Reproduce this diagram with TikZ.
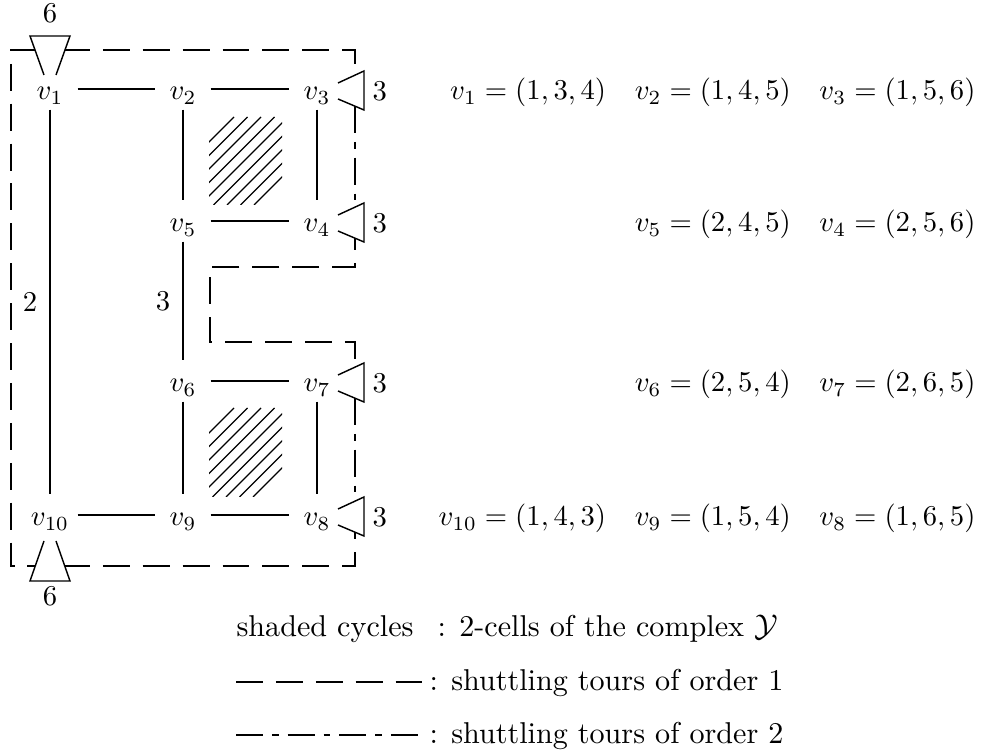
\documentclass[tikz,border=0pt]{standalone}
\usetikzlibrary{calc}
\tikzset{
  vtx/.style={inner sep=0pt,minimum width=18.8pt,minimum height=13.9pt,text height=8.2pt,text depth=0.55pt},
  edge/.style={line width=0.9pt},
  order1/.style={line width=0.9pt,dash pattern=on 9.4pt off 4.5pt},
  order2/.style={line width=0.9pt,dash pattern=on 9.4pt off 3.1pt on 2.4pt off 3.1pt},
  hatch/.style={line width=0.4pt},
  tick/.style={line width=0.5pt,fill=white},
  lbl/.style={inner sep=0pt},
  key/.style={lbl,anchor=base west,font=\fontsize{10.5}{12}\selectfont},
  sidemark/.pic={
    \draw[tick] (-26,-6) -- (0,-18) -- (0,21) -- (-26,10);
    \node[lbl,anchor=base west] at (8,12) {3};
  },
  topmark/.pic={
    \draw[tick] (-6,39) -- (-20,0) -- (20,0) -- (6,39);
    \node[lbl,anchor=base] at (0,-13) {6};
  },
  botmark/.pic={
    \draw[tick] (-6,-40) -- (-20,0) -- (20,0) -- (6,-40);
    \node[lbl,anchor=base] at (0,25) {6};
  }
}
\begin{document}
\begin{tikzpicture}[x=0.3484pt,y=-0.3484pt]
  \useasboundingbox (0,0) rectangle (983,751);
  % vertices
  \node[vtx] (v1) at (50,89) {$v_1$};
  \node[vtx] (v2) at (183,89) {$v_2$};
  \node[vtx] (v3) at (317,89) {$v_3$};
  \node[vtx] (v5) at (183,221) {$v_5$};
  \node[vtx] (v4) at (317,221) {$v_4$};
  \node[vtx] (v6) at (183,381) {$v_6$};
  \node[vtx] (v7) at (317,381) {$v_7$};
  \node[vtx] (v10) at (50,515) {$v_{10}$};
  \node[vtx] (v9) at (183,515) {$v_9$};
  \node[vtx] (v8) at (317,515) {$v_8$};
  % shaded cycles
  \begin{scope}
    \clip (209,117) rectangle (282,205);
    \foreach \c in {351,364.5,...,460}
      \draw[hatch] (\c-205,205) -- (\c-117,117);
  \end{scope}
  \begin{scope}
    \clip (209,408) rectangle (282,497);
    \foreach \c in {642,655.5,...,751}
      \draw[hatch] (\c-497,497) -- (\c-408,408);
  \end{scope}
  % edges
  \draw[edge] (v1) -- (v2);
  \draw[edge] (v2) -- (v3);
  \draw[edge] (v2) -- (v5);
  \draw[edge] (v3) -- (v4);
  \draw[edge] (v5) -- (v4);
  \draw[edge] (v5) -- node[left,inner sep=4pt] {3} (v6);
  \draw[edge] (v1) -- node[left,inner sep=4pt] {2} (v10);
  \draw[edge] (v6) -- (v7);
  \draw[edge] (v6) -- (v9);
  \draw[edge] (v7) -- (v8);
  \draw[edge] (v10) -- (v9);
  \draw[edge] (v9) -- (v8);
  % shuttling tours
  \draw[order1,dash phase=9.4pt] (50,50) -- (355,50) -- (355,91);
  \draw[order1,dash phase=9.4pt] (50,50) -- (11,50) -- (11,566) -- (50,566);
  \draw[order1,dash phase=9.4pt] (50,566) -- (355,566) -- (355,517);
  \draw[order1] (355,223) -- (355,267) -- (210,267) -- (210,342) -- (355,342) -- (355,383);
  \draw[order2] (355,106) -- (355,223);
  \draw[order2] (355,398) -- (355,517);
  \pic at ($(v3)+(47,0)$) {sidemark};
  \pic at ($(v4)+(47,0)$) {sidemark};
  \pic at ($(v7)+(47,0)$) {sidemark};
  \pic at ($(v8)+(47,0)$) {sidemark};
  \pic at ($(v1)+(0,-53)$) {topmark};
  \pic at ($(v10)+(0,66)$) {botmark};
  % vertex table
  \node[lbl,anchor=base east] (tab1) at (976,100) {$v_1=(1,3,4)\quad v_2=(1,4,5)\quad v_3=(1,5,6)$};
  \node[lbl,anchor=base east] (tab2) at (976,232) {$v_5=(2,4,5)\quad v_4=(2,5,6)$};
  \node[lbl,anchor=base east] (tab3) at (976,392) {$v_6=(2,5,4)\quad v_7=(2,6,5)$};
  \node[lbl,anchor=base east] (tab4) at (976,526) {$v_{10}=(1,4,3)\quad v_9=(1,5,4)\quad v_8=(1,6,5)$};
  % legend
  \node[key] (key1) at (236,637) {shaded cycles};
  \node[key] (key1txt) at (437,637) {: 2-cells of the complex $\mathcal{Y}$};
  \coordinate (key2a) at (236,682);
  \coordinate (key2b) at (422,682);
  \draw[order1] (key2a) -- (key2b);
  \node[key] (key2txt) at (429,690) {: shuttling tours of order 1};
  \coordinate (key3a) at (236,735);
  \coordinate (key3b) at (422,735);
  \draw[order2] (key3a) -- (key3b);
  \node[key] (key3txt) at (429,743) {: shuttling tours of order 2};
\end{tikzpicture}
\end{document}
